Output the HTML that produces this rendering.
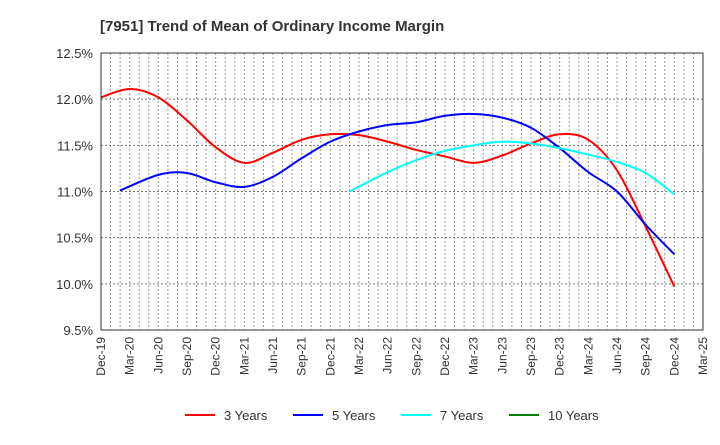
<!DOCTYPE html>
<html><head><meta charset="utf-8"><style>
body{margin:0;background:#fff;font-family:"Liberation Sans",sans-serif}
svg text{font-family:"Liberation Sans",sans-serif;fill:#333}
</style></head><body>
<svg width="720" height="440" id="chart">
<text x="100" y="31" font-size="15" font-weight="bold" style="fill:#333">[7951]  Trend of Mean of Ordinary Income Margin</text>
<g id="grid"></g><g id="series"></g><g id="axes"></g><g id="legend"></g>
</svg>
<script>
const xLabels=["Dec-19","Mar-20","Jun-20","Sep-20","Dec-20","Mar-21","Jun-21","Sep-21","Dec-21","Mar-22","Jun-22","Sep-22","Dec-22","Mar-23","Jun-23","Sep-23","Dec-23","Mar-24","Jun-24","Sep-24","Dec-24","Mar-25"];
const yTicks=[9.5,10.0,10.5,11.0,11.5,12.0,12.5];
const m3=[0,3,6,9,12,15,18,21,24,27,30,33,36,39,42,45,48,51,54,57,60];
const y3=[12.02,12.11,12.02,11.77,11.48,11.31,11.42,11.56,11.62,11.61,11.54,11.45,11.38,11.31,11.39,11.52,11.62,11.56,11.23,10.62,9.97];
const m5=[2,6,9,12,15,18,21,24,27,30,33,36,39,42,45,48,51,54,57,60];
const y5=[11.01,11.18,11.20,11.10,11.05,11.16,11.36,11.54,11.65,11.72,11.75,11.82,11.84,11.80,11.69,11.47,11.21,11.00,10.64,10.32];
const m7=[26,30,33,36,39,42,45,48,51,54,57,60];
const y7=[11.00,11.21,11.34,11.44,11.50,11.54,11.52,11.47,11.40,11.32,11.20,10.97];
const m10=[];
const y10=[];
const names=["3 Years","5 Years","7 Years","10 Years"];
const colors=["#ff0000","#0000ff","#00ffff","#008000"];
const L=101,R=703,T=53,B=330,NS="http://www.w3.org/2000/svg";
const NM=(xLabels.length-1)*3;
const xm=m=>L+m*(R-L)/NM;
const ys=v=>B-(v-9.5)/3*(B-T);
function mk(t,a,p){const e=document.createElementNS(NS,t);for(const k in a)e.setAttribute(k,a[k]);p.appendChild(e);return e;}
const grid=document.getElementById('grid'),axes=document.getElementById('axes'),ser=document.getElementById('series'),leg=document.getElementById('legend');
for(let m=1;m<NM;m++){const x=xm(m);
const g=mk('line',{x1:x,x2:x,y1:T,y2:B,stroke:'#999','stroke-dasharray':'2,2','stroke-width':1},grid);

}
yTicks.forEach(v=>{const y=ys(v);
const g=mk('line',{x1:L,x2:R,y1:y,y2:y,stroke:'#777','stroke-dasharray':'2,2'},grid);


const t=mk('text',{x:L-8,y:y+5,'text-anchor':'end','font-size':13},axes);t.textContent=v.toFixed(1)+'%';

});
const fr=mk('rect',{x:L,y:T,width:R-L,height:B-T,fill:'none',stroke:'#333','stroke-width':1},axes);


xLabels.forEach((s,i)=>{const x=xm(i*3);
const t=mk('text',{x:0,y:0,'text-anchor':'end','font-size':12,transform:`translate(${x+4},${B+7}) rotate(-90)`},axes);t.textContent=s;

});
function path(ms,arr){const p=arr.map((v,i)=>[xm(ms[i]),ys(v)]);if(p.length<2)return '';
let d=`M${p[0][0]},${p[0][1]}`;for(let i=0;i<p.length-1;i++){const p0=p[i-1]||p[i],p1=p[i],p2=p[i+1],p3=p[i+2]||p2;
d+=` C${p1[0]+(p2[0]-p0[0])/6},${p1[1]+(p2[1]-p0[1])/6} ${p2[0]-(p3[0]-p1[0])/6},${p2[1]-(p3[1]-p1[1])/6} ${p2[0]},${p2[1]}`;}return d;}
[[m3,y3],[m5,y5],[m7,y7],[m10,y10]].forEach((a,k)=>{const d=path(a[0],a[1]);if(!d)return;
const e=mk('path',{d:d,fill:'none',stroke:colors[k],'stroke-width':2},ser);

});
names.forEach((n,k)=>{const x0=185+k*108;
const g=mk('g',{},leg);


mk('line',{x1:x0,x2:x0+30,y1:415,y2:415,stroke:colors[k],'stroke-width':2},g);
const t=mk('text',{x:x0+39,y:420,'font-size':13},g);t.textContent=n;});
</script>
</body></html>
